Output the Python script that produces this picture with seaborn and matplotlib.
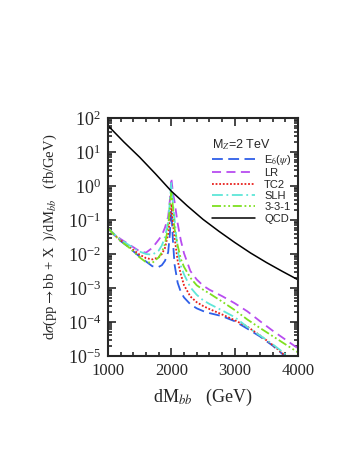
import matplotlib
matplotlib.use("Agg")
import matplotlib.pyplot as plt
import matplotlib.ticker as ticker
import numpy as np
import pandas as pd
import seaborn as sns

# invariant mass grid (GeV)
MASS = [1000, 1100, 1200, 1300, 1400, 1500, 1600, 1700, 1800, 1850, 1900, 1950, 1975,
        2000, 2025, 2050, 2100, 2150, 2200, 2300, 2400, 2500, 2600, 2800, 3000, 3200,
        3400, 3600, 3800, 4000]

# log10 of dsigma/dM (fb/GeV)
LOG_E6 = [-1.24, -1.44, -1.62, -1.76, -1.92, -2.08, -2.22, -2.36, -2.38, -2.33, -2.20, -1.95, -1.45,
          -0.72, -1.60, -2.30, -2.85, -3.12, -3.28, -3.48, -3.60, -3.68, -3.74, -3.83, -3.98, -4.20,
          -4.43, -4.70, -5.02, -5.30]
LOG_LR = [-1.24, -1.42, -1.56, -1.68, -1.80, -1.92, -1.96, -1.82, -1.58, -1.45, -1.22, -0.90, -0.45,
          0.24, -0.20, -0.45, -1.10, -1.60, -1.98, -2.50, -2.75, -2.93, -3.05, -3.24, -3.45, -3.69,
          -3.98, -4.26, -4.52, -4.78]
LOG_TC2 = [-1.24, -1.43, -1.60, -1.73, -1.88, -2.02, -2.12, -2.16, -2.10, -2.00, -1.82, -1.40, -1.00,
           -0.53, -1.10, -1.50, -2.20, -2.60, -2.92, -3.25, -3.42, -3.53, -3.62, -3.78, -3.95, -4.14,
           -4.40, -4.68, -5.00, -5.30]
LOG_SLH = [-1.24, -1.42, -1.58, -1.70, -1.82, -1.93, -2.00, -2.02, -1.90, -1.75, -1.50, -1.05, -0.50,
           0.09, -0.50, -0.95, -1.90, -2.35, -2.60, -2.98, -3.20, -3.36, -3.47, -3.66, -3.86, -4.15,
           -4.40, -4.66, -4.95, -5.22]
LOG_331 = [-1.24, -1.44, -1.62, -1.76, -1.92, -2.10, -2.24, -2.26, -2.10, -1.95, -1.70, -1.20, -0.65,
           -0.15, -0.60, -1.25, -1.75, -2.15, -2.38, -2.70, -2.92, -3.05, -3.16, -3.40, -3.65, -3.93,
           -4.18, -4.42, -4.66, -4.90]

QCD_MASS = [1000, 1250, 1500, 1750, 2000, 2250, 2500, 2750, 3000, 3250, 3500, 3750, 4000]
LOG_QCD = [1.78, 1.30, 0.85, 0.36, -0.15, -0.58, -0.98, -1.33, -1.66, -1.97, -2.25, -2.51, -2.76]

LABELS = [r'E$_6$($\psi$)', 'LR', 'TC2', 'SLH', '3-3-1']
COLORS = ['#2f5fe8', '#b84cf0', '#e8201c', '#5ee6d8', '#7ee020']
STYLES = [(0, (6, 3)), (0, (5, 3)), (0, (1, 1)), (0, (6, 2, 1, 2)), (0, (5, 1.5, 1, 1.5, 1, 1.5))]

sns.set_style("ticks")
plt.rcParams['font.family'] = ['Liberation Serif', 'DejaVu Serif']
plt.rcParams['mathtext.fontset'] = 'stix'

fig = plt.figure(figsize=(3.54, 4.58), dpi=100)
ax = fig.add_axes([0.305, 0.223, 0.537, 0.519])

for lab, logs, col, ls in zip(LABELS, [LOG_E6, LOG_LR, LOG_TC2, LOG_SLH, LOG_331], COLORS, STYLES):
    df = pd.DataFrame({'m': MASS, 'y': np.power(10.0, logs)})
    sns.lineplot(data=df, x='m', y='y', ax=ax, color=col, linestyle=ls, lw=1.3, label=lab)

qcd = pd.DataFrame({'m': QCD_MASS, 'y': np.power(10.0, LOG_QCD)})
sns.lineplot(data=qcd, x='m', y='y', ax=ax, color='black', lw=1.1, label='QCD')

ax.set_yscale('log')
ax.set_xlim(1000, 4000)
ax.set_ylim(1e-5, 1e2)
ax.xaxis.set_major_locator(ticker.MultipleLocator(1000))
ax.xaxis.set_minor_locator(ticker.MultipleLocator(200))
ax.yaxis.set_major_locator(ticker.LogLocator(base=10, numticks=10))
ax.yaxis.set_minor_locator(ticker.LogLocator(base=10, subs=np.arange(2, 10), numticks=20))
ax.yaxis.set_minor_formatter(ticker.NullFormatter())
ax.tick_params(which='both', direction='in', top=True, right=True, width=1.2)
ax.tick_params(which='major', length=6, labelsize=12, pad=5)
ax.tick_params(which='minor', length=3)
ax.tick_params(axis='y', which='major', labelsize=13)
for sp in ax.spines.values():
    sp.set_linewidth(1.5)

ax.set_xlabel(r'dM$_{bb}$   (GeV)', fontsize=13, labelpad=6)
ax.set_ylabel(r'd$\sigma$(pp$\rightarrow$bb + X  )/dM$_{bb}$   (fb/GeV)', fontsize=10.5, labelpad=6)

leg = ax.legend(loc='upper right', bbox_to_anchor=(1.0, 0.95), frameon=False,
                title=r'M$_Z$=2 TeV', handlelength=3.9, labelspacing=0.12,
                handletextpad=0.8, borderaxespad=0.2,
                prop={'family': 'Liberation Sans', 'size': 8})
leg.get_title().set_fontfamily('Liberation Sans')
leg.get_title().set_fontsize(9)
leg._legend_box.align = 'left'

fig.savefig('out.png', dpi=100)
